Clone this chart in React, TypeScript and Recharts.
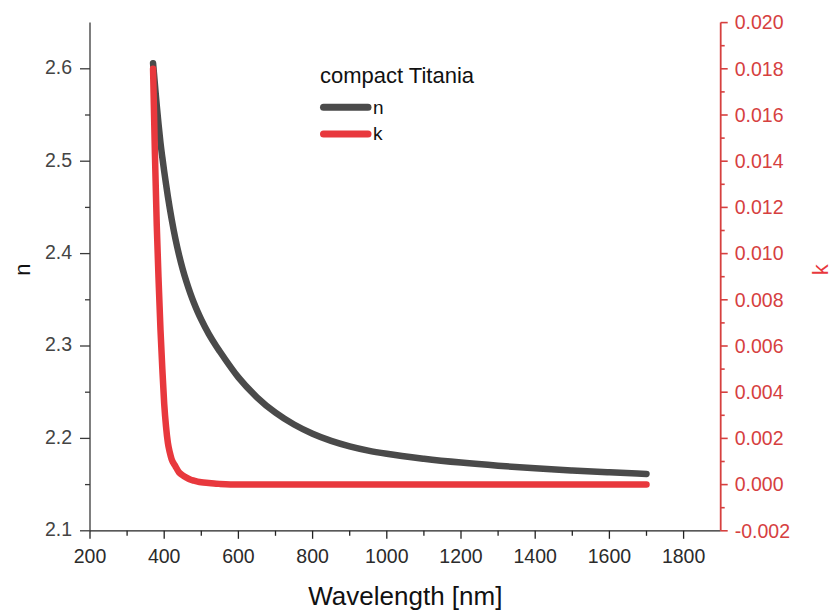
import React from "react";
import { LineChart, Line, XAxis, YAxis, Legend, Label } from "recharts";

// wavelength in nm
const wavelengths = [
  370, 375, 380, 385, 390, 395, 400, 405, 410, 415, 420,
  430, 440, 450, 460, 470, 480, 490, 500,
  520, 540, 550,
  600, 650, 700, 750, 800, 850, 900, 950, 1000,
  1100, 1200, 1300, 1400, 1500, 1600, 1700,
];

// refractive index n (left axis)
const nValues = [
  2.606, 2.583, 2.56, 2.539, 2.52, 2.504, 2.489, 2.475, 2.4615, 2.449, 2.4375,
  2.4165, 2.3985, 2.383, 2.3695, 2.3575, 2.3468, 2.3372, 2.3285,
  2.3131, 2.3, 2.294,
  2.266, 2.2445, 2.2278, 2.215, 2.205, 2.1973, 2.1914, 2.1868, 2.1833,
  2.178, 2.1738, 2.1704, 2.1676, 2.1653, 2.1633, 2.1615,
];

// extinction coefficient k (right axis)
const kValues = [
  0.018, 0.0143, 0.0112, 0.0088, 0.0067, 0.005, 0.0035, 0.0025, 0.0018, 0.0014, 0.0011,
  0.0008, 0.00053, 0.0004, 0.0003, 0.00022, 0.00017, 0.00013, 0.0001,
  0.00007, 0.00004, 0.00003,
  0, 0, 0, 0, 0, 0, 0, 0, 0,
  0, 0, 0, 0, 0, 0, 0,
];

const wlTicks = [200, 300, 400, 500, 600, 700, 800, 900, 1000, 1100, 1200, 1300, 1400, 1500, 1600, 1700, 1800];
const wlLabels = [200, 400, 600, 800, 1000, 1200, 1400, 1600, 1800];
const nTicks = [2.1, 2.15, 2.2, 2.25, 2.3, 2.35, 2.4, 2.45, 2.5, 2.55, 2.6];
const nLabels = [2.1, 2.2, 2.3, 2.4, 2.5, 2.6];
const kTicks = [
  -0.002, -0.001, 0, 0.001, 0.002, 0.003, 0.004, 0.005, 0.006, 0.007, 0.008,
  0.009, 0.01, 0.011, 0.012, 0.013, 0.014, 0.015, 0.016, 0.017, 0.018, 0.019, 0.02,
];
const kLabels = [-0.002, 0, 0.002, 0.004, 0.006, 0.008, 0.01, 0.012, 0.014, 0.016, 0.018, 0.02];
const legendOrder = ["n", "k"];

const rows = wavelengths.map((wl, i) => ({ wl, n: nValues[i], k: kValues[i] }));

const FONT = "'Liberation Sans', Arial, Helvetica, sans-serif";
const DARK = "#4a4a4a";
const RED = "#e8383d";
const AXIS_RED = "#d6403f";

const isIn = (arr: number[], v: number) => arr.some((a) => Math.abs(a - v) < 1e-9);

const BottomTick = (props: any) => {
  const { x, y, payload } = props;
  const major = isIn(wlLabels, payload.value);
  return (
    <g>
      <line x1={x} y1={y} x2={x} y2={y + (major ? 8 : 5)} stroke="#222" strokeWidth={1.3} />
      {major && (
        <text x={x} y={y + 32.5} textAnchor="middle" fontSize={19.5} fill="#2b2b2b" fontFamily={FONT}>
          {payload.value}
        </text>
      )}
    </g>
  );
};

const TopTick = (props: any) => {
  const { x, y, payload } = props;
  const major = isIn(wlLabels, payload.value);
  return <line x1={x} y1={y} x2={x} y2={y + (major ? 8 : 4)} stroke="#222" strokeWidth={1.3} />;
};

const LeftTick = (props: any) => {
  const { x, y, payload } = props;
  const major = isIn(nLabels, payload.value);
  return (
    <g>
      <line x1={x - (major ? 10 : 5)} y1={y} x2={x} y2={y} stroke="#3a3a3a" strokeWidth={1.3} />
      {major && (
        <text x={x - 18} y={y - 1.5} dy="0.35em" textAnchor="end" fontSize={19.5} fill="#444" fontFamily={FONT}>
          {payload.value.toFixed(1)}
        </text>
      )}
    </g>
  );
};

const RightTick = (props: any) => {
  const { x, y, payload } = props;
  const major = isIn(kLabels, payload.value);
  return (
    <g>
      <line x1={x} y1={y} x2={x + (major ? 7 : 4)} y2={y} stroke={AXIS_RED} strokeWidth={1.6} />
      {major && (
        <text x={x + 14} y={y} dy="0.35em" textAnchor="start" fontSize={19.5} fill={AXIS_RED} fontFamily={FONT}>
          {payload.value.toFixed(3)}
        </text>
      )}
    </g>
  );
};

const LegendBox = ({ payload }: any) => {
  const items = [...(payload || [])].sort(
    (a: any, b: any) => legendOrder.indexOf(a.value) - legendOrder.indexOf(b.value)
  );
  return (
    <svg width={834} height={614} style={{ display: "block", overflow: "visible" }}>
      <text x={320} y={83.3} fontSize={22} fill="#111" fontFamily={FONT}>
        compact Titania
      </text>
      {items.map((item: any, i: number) => (
        <g key={item.value}>
          <line
            x1={323.5}
            x2={368}
            y1={107.3 + i * 26.7}
            y2={107.3 + i * 26.7}
            stroke={item.color}
            strokeWidth={7}
            strokeLinecap="round"
          />
          <text x={373} y={113.5 + i * 26.7} fontSize={19} fill="#111" fontFamily={FONT}>
            {item.value}
          </text>
        </g>
      ))}
    </svg>
  );
};

export default function App() {
  return (
    <div style={{ position: "absolute", left: 0, top: 0 }}>
      <LineChart width={834} height={614} data={rows} margin={{ top: 22.6, right: 0, bottom: 43.2, left: 0 }}>
        <XAxis
          xAxisId="b"
          dataKey="wl"
          type="number"
          domain={[200, 1900]}
          ticks={wlTicks}
          interval={0}
          tickSize={0}
          tickMargin={0}
          tickLine={false}
          axisLine={{ stroke: "#222", strokeWidth: 1.3 }}
          tick={(p: any) => <BottomTick {...p} />}
          height={40}
          allowDataOverflow
        >
          <Label
            content={(p: any) => {
              const vb = p.viewBox;
              return (
                <text x={vb.x + vb.width / 2} y={vb.y + 74} textAnchor="middle" fontSize={26} fill="#111" fontFamily={FONT}>
                  Wavelength [nm]
                </text>
              );
            }}
          />
        </XAxis>
        <XAxis
          xAxisId="t"
          dataKey="wl"
          type="number"
          orientation="top"
          domain={[200, 1900]}
          ticks={wlTicks}
          interval={0}
          tickSize={0}
          tickMargin={0}
          tickLine={false}
          axisLine={{ stroke: "#222", strokeWidth: 1.3 }}
          tick={(p: any) => <TopTick {...p} />}
          height={0}
          allowDataOverflow
        />
        <YAxis
          yAxisId="n"
          type="number"
          domain={[2.1, 2.65]}
          ticks={nTicks}
          interval={0}
          tickSize={0}
          tickMargin={0}
          tickLine={false}
          axisLine={{ stroke: "#3a3a3a", strokeWidth: 1.3 }}
          tick={(p: any) => <LeftTick {...p} />}
          width={90}
          allowDataOverflow
        >
          <Label
            content={(p: any) => {
              const vb = p.viewBox;
              const cx = vb.x + 22;
              const cy = vb.y + vb.height / 2 - 7;
              return (
                <text x={cx} y={cy} dy="0.35em" transform={`rotate(-90, ${cx}, ${cy})`} textAnchor="middle" fontSize={22} fill="#111" fontFamily={FONT}>
                  n
                </text>
              );
            }}
          />
        </YAxis>
        <YAxis
          yAxisId="k"
          orientation="right"
          type="number"
          domain={[-0.002, 0.02]}
          ticks={kTicks}
          interval={0}
          tickSize={0}
          tickMargin={0}
          tickLine={false}
          axisLine={{ stroke: AXIS_RED, strokeWidth: 1.8 }}
          tick={(p: any) => <RightTick {...p} />}
          width={113.3}
          allowDataOverflow
        >
          <Label
            content={(p: any) => {
              const vb = p.viewBox;
              const cx = vb.x + 100;
              const cy = vb.y + vb.height / 2 - 7;
              return (
                <text x={cx} y={cy} dy="0.35em" transform={`rotate(-90, ${cx}, ${cy})`} textAnchor="middle" fontSize={22} fill={RED} fontFamily={FONT}>
                  k
                </text>
              );
            }}
          />
        </YAxis>
        <Line
          xAxisId="b"
          yAxisId="n"
          dataKey="n"
          name="n"
          type="monotone"
          stroke={DARK}
          strokeWidth={6.5}
          strokeLinecap="round"
          strokeLinejoin="round"
          dot={false}
          isAnimationActive={false}
        />
        <Line
          xAxisId="b"
          yAxisId="k"
          dataKey="k"
          name="k"
          type="monotone"
          stroke={RED}
          strokeWidth={6.5}
          strokeLinecap="round"
          strokeLinejoin="round"
          dot={false}
          isAnimationActive={false}
        />
        <Legend
          layout="horizontal"
          verticalAlign="middle"
          align="center"
          wrapperStyle={{ left: 0, top: 0, width: 834, height: 614, pointerEvents: "none" }}
          content={(p: any) => <LegendBox payload={p.payload} />}
        />
      </LineChart>
    </div>
  );
}
